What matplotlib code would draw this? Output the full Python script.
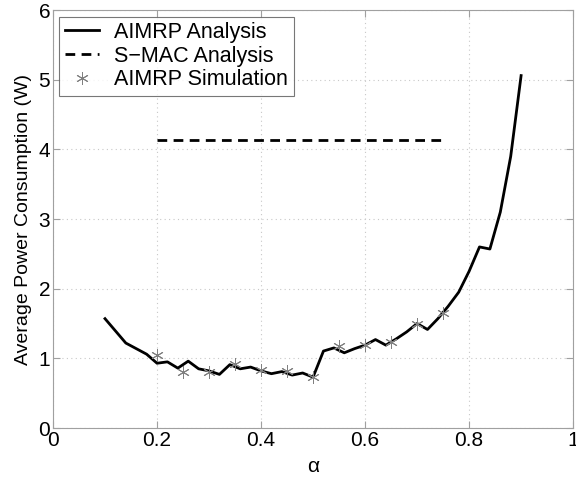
import numpy as np
import matplotlib
matplotlib.use("Agg")
import matplotlib.pyplot as plt

plt.rcParams['font.family'] = ['Liberation Sans', 'DejaVu Sans']

# AIMRP analysis curve
alpha_an = [0.10, 0.14, 0.18, 0.20, 0.22, 0.24, 0.26, 0.28, 0.30, 0.32, 0.34, 0.36,
            0.38, 0.40, 0.42, 0.44, 0.46, 0.48, 0.50, 0.52, 0.54, 0.56, 0.58, 0.60,
            0.62, 0.64, 0.66, 0.68, 0.70, 0.72, 0.74, 0.76, 0.78, 0.80, 0.82, 0.84,
            0.86, 0.88, 0.90]
power_an = [1.57, 1.22, 1.06, 0.93, 0.95, 0.86, 0.96, 0.85, 0.82, 0.77, 0.91, 0.85,
            0.875, 0.82, 0.78, 0.81, 0.76, 0.79, 0.73, 1.105, 1.15, 1.08, 1.14, 1.19,
            1.27, 1.19, 1.28, 1.38, 1.50, 1.415, 1.57, 1.75, 1.95, 2.25, 2.60, 2.57,
            3.10, 3.90, 5.06]

# S-MAC analysis (flat)
alpha_smac = [0.20, 0.75]
power_smac = [4.14, 4.14]

# AIMRP simulation points
alpha_sim = [0.20, 0.25, 0.30, 0.35, 0.40, 0.45, 0.50, 0.55, 0.60, 0.65, 0.70, 0.75]
power_sim = [1.05, 0.81, 0.81, 0.92, 0.83, 0.82, 0.73, 1.18, 1.19, 1.23, 1.50, 1.65]

fig = plt.figure(figsize=(5.76, 4.82), dpi=100)
ax = fig.add_axes([0.092, 0.112, 0.903, 0.867])

ax.plot(alpha_an, power_an, color='black', lw=2, label='AIMRP Analysis')
ax.plot(alpha_smac, power_smac, color='black', lw=2, ls=(0, (3.5, 2.3)), label='S\u2212MAC Analysis')
ax.plot(alpha_sim, power_sim, ls='none', marker=(6, 2, 0), ms=9, mew=0.7,
        color='#808080', label='AIMRP Simulation')

ax.set_xlim(0, 1)
ax.set_ylim(0, 6)
ax.set_xticks(np.arange(0, 1.01, 0.2))
ax.set_xticklabels(['0', '0.2', '0.4', '0.6', '0.8', '1'])
ax.set_yticks(range(7))
ax.grid(True, color='#c8c8c8', ls=(0, (1, 3)), lw=0.8)
ax.set_axisbelow(True)
for s in ax.spines.values():
    s.set_color('#a0a0a0')
ax.tick_params(direction='in', length=5, color='#a0a0a0', labelsize=15, top=True, right=True,
               labeltop=False, labelright=False, pad=2)

ax.set_xlabel('\u03b1', fontsize=15, labelpad=5)
ax.set_ylabel('Average Power Consumption (W)', fontsize=14, labelpad=5)

leg = ax.legend(loc='upper left', fontsize=15.5, frameon=True, fancybox=False,
                borderaxespad=0.3, handlelength=1.6, labelspacing=0.12, borderpad=0.25,
                handletextpad=0.7)
leg.get_frame().set_edgecolor('#555555')
leg.get_frame().set_linewidth(0.8)

fig.savefig('out.png', dpi=100)
